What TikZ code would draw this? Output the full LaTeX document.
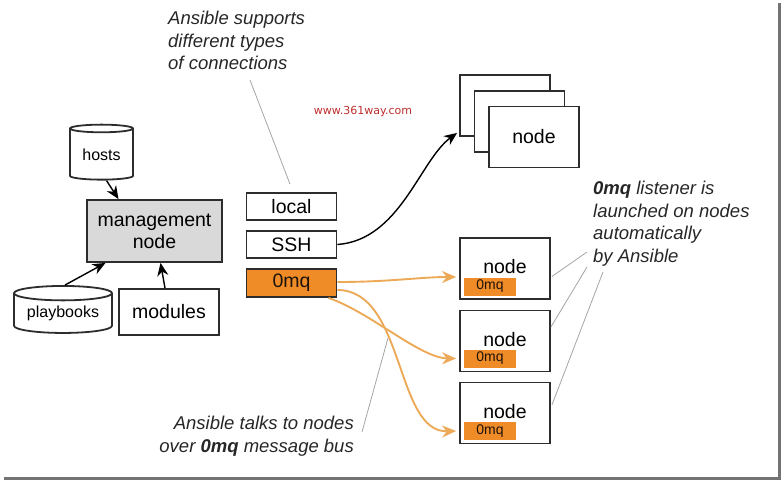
\documentclass[tikz,border=0pt]{standalone}
\usepackage{fontspec}
\setmainfont{Liberation Sans}
\newfontfamily\wmfont{DejaVu Sans}
\usetikzlibrary{arrows.meta, positioning, shapes.geometric}
\definecolor{zmqorange}{RGB}{240,140,40}
\definecolor{wireorange}{RGB}{236,170,88}
\definecolor{mgmtgray}{RGB}{217,217,217}
\definecolor{leadgray}{RGB}{165,165,165}
\definecolor{boxline}{RGB}{45,45,45}
\definecolor{wmred}{RGB}{190,45,45}

\begin{document}
\begin{tikzpicture}[
    x=1pt, y=-1pt,
    box/.style = {draw=boxline, line width=1.8pt, fill=white, inner sep=0pt, align=center, font=\fontsize{19.5}{22}\selectfont},
    db/.style = {cylinder, shape border rotate=90, aspect=0.2, draw=boxline, line width=1.8pt, fill=white, inner sep=0pt, font=\fontsize{16}{18}\selectfont},
    conn/.style = {box, minimum width=90pt, minimum height=27pt},
    target/.style = {box, minimum width=90pt, minimum height=61pt},
    zmqtag/.style = {fill=zmqorange, minimum width=52pt, minimum height=18pt, inner sep=0pt, font=\fontsize{14}{15}\selectfont, text=black!85!brown},
    note/.style = {inner sep=0pt, text=black!85, font=\fontsize{18.5}{22.5}\selectfont\itshape},
    leader/.style = {draw=leadgray, line width=0.8pt},
    link/.style = {draw=black, line width=1.4pt, -{Stealth[length=13pt,width=11pt]}},
    wire/.style = {draw=wireorange, line width=1.9pt, -{Stealth[length=14pt,width=12pt]}}
  ]
  \useasboundingbox (0,0) rectangle (782,480);

  % management side
  \node[db, minimum width=63pt, minimum height=55pt] (hosts) at (101.5,154.5) {hosts};
  \node[box, fill=mgmtgray, minimum width=135pt, minimum height=62pt] (mgmt) at (154.5,231) {management\\node};
  \node[db, minimum width=98pt, minimum height=47pt] (playbooks) at (63,313.5) {playbooks};
  \node[box, minimum width=100pt, minimum height=46pt] (modules) at (169,312) {modules};

  \draw[link] ([xshift=5pt]hosts.south) -- ([xshift=-36pt]mgmt.north);
  \draw[link] ([xshift=2pt]playbooks.north) -- ([xshift=-49pt]mgmt.south);
  \draw[link] ([xshift=-4pt]modules.north) -- ([xshift=6pt]mgmt.south);

  % connection types
  \node[conn] (local) at (291.5,206.5) {local};
  \node[conn] (ssh)   at (291.5,244.5) {SSH};
  \node[conn, fill=zmqorange, minimum height=28pt, text=black!85!brown] (zmq) at (291.5,283) {0mq};

  % stacked nodes reached over SSH
  \node[target] (back1) at (505,105.5) {};
  \node[target] (back2) at (519.5,121.5) {};
  \node[target] (front) at (534,137) {node};

  \draw[link] (ssh.east) .. controls (400,240) and (420,160) .. ([xshift=-2pt,yshift=4pt]back1.south west);

  % nodes running 0mq
  \node[target] (nodeA) at (505,268.5) {\raisebox{4pt}{node}};
  \node[target] (nodeB) at (505,341)   {\raisebox{4pt}{node}};
  \node[target] (nodeC) at (505,413)   {\raisebox{4pt}{node}};
  \node[zmqtag] (tagA) at (490,286.5) {0mq};
  \node[zmqtag] (tagB) at (490,358.5) {0mq};
  \node[zmqtag] (tagC) at (490,431) {0mq};

  \draw[wire] ([yshift=1pt]zmq.east) .. controls (390,282) and (420,277) .. ([xshift=-3pt,yshift=-8.5pt]nodeA.west);
  \draw[wire] ([xshift=-9pt]zmq.south east) .. controls (370,312) and (420,358) .. ([xshift=-3pt]nodeB.west |- tagB);
  \draw[wire] ([yshift=-7pt]zmq.east) .. controls (405,290) and (395,433) .. ([xshift=-3pt]nodeC.west |- tagC);

  % annotations
  \node[font=\wmfont\fontsize{11}{12}\selectfont, text=wmred] (wm) at (363,112) {www.361way.com};
  \node[note, anchor=north west, align=left] (connnote) at (168,11) {Ansible supports\\different types\\of connections};
  \node[note, anchor=north west, align=left] (listennote) at (593,181) {{\bfseries 0mq} listener is\\launched on nodes\\automatically\\by Ansible};
  \node[note, anchor=north east, align=right] (busnote) at (354,416) {Ansible talks to nodes\\over {\bfseries 0mq} message bus};

  \coordinate (connfoot) at (250,80);
  \coordinate (busfoot) at (388,338);
  \coordinate (lsA) at (587,252);
  \coordinate (lsB) at (587,267);
  \coordinate (lsC) at (603,272);

  \draw[leader] (connfoot) -- ([xshift=-1.5pt,yshift=8pt]local.north);
  \draw[leader] ([xshift=8pt,yshift=-16pt]busnote.north east) -- (busfoot);
  \draw[leader] ([xshift=1pt,yshift=-8pt]nodeA.east) -- (lsA);
  \draw[leader] ([yshift=14pt]nodeB.east) -- (lsB);
  \draw[leader] ([xshift=1pt,yshift=8pt]nodeC.east) -- (lsC);

  % frame shadow
  \draw[black!55, line width=3pt] (4,478) -- (779.5,478) -- (779.5,3);
\end{tikzpicture}
\end{document}
